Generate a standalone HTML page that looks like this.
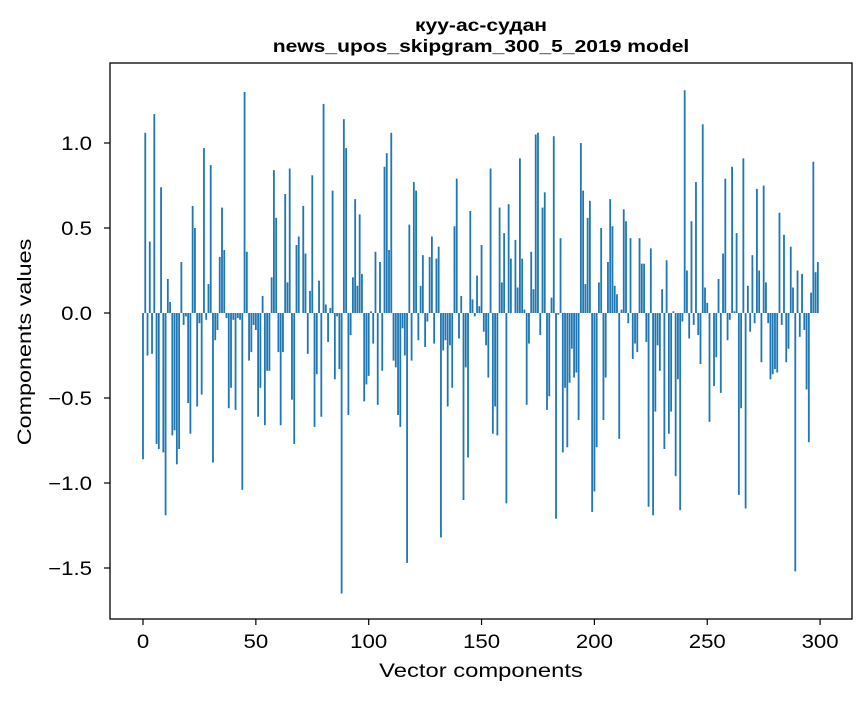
<!DOCTYPE html>
<html><head><meta charset="utf-8"><style>
body{margin:0;background:#fff;}
svg text{font-family:"Liberation Sans","DejaVu Sans",sans-serif;fill:#000;}
</style></head><body>
<svg id="chart" width="867" height="696" xmlns="http://www.w3.org/2000/svg">
<rect width="867" height="696" fill="#fff"/>
<text transform="translate(481,31) scale(1.17,1)" font-size="18" font-weight="bold" text-anchor="middle">куу-ас-судан</text>
<text transform="translate(481,52) scale(1.17,1)" font-size="18" font-weight="bold" text-anchor="middle">news_upos_skipgram_300_5_2019 model</text>
<g id="bars"></g>
<rect x="110" y="63" width="742" height="556" fill="none" stroke="#000" stroke-width="1.3"/>
<g id="xticks"></g>
<g id="yticks"></g>
<text transform="translate(481,677) scale(1.22,1)" font-size="19.5" text-anchor="middle">Vector components</text>
<text transform="translate(31,342) rotate(-90) scale(1.2,1)" font-size="19.5" text-anchor="middle">Components values</text>
</svg>
<script>
const values = [
-0.86,1.06,-0.25,0.42,-0.24,1.17,-0.77,-0.80,0.74,-0.82,
-1.19,0.20,0.065,-0.72,-0.69,-0.89,-0.80,0.30,-0.07,-0.02,
-0.53,-0.71,0.63,0.50,-0.55,-0.06,-0.48,0.97,-0.04,0.17,
0.87,-0.88,-0.16,-0.10,0.33,0.62,0.37,-0.03,-0.56,-0.44,
-0.04,-0.57,-0.03,-0.04,-1.04,1.30,0.36,-0.28,
-0.23,-0.07,-0.10,-0.61,-0.44,0.10,-0.66,-0.34,-0.34,0.21,
0.84,0.56,-0.23,-0.66,-0.23,0.70,0.18,0.85,-0.51,-0.77,
0.40,0.45,0,0.63,0.35,-0.24,0.13,0.81,-0.67,-0.36,
0.19,-0.61,1.23,0.05,-0.17,0.03,0.72,-0.39,-0.02,-0.33,
-1.65,1.14,0.97,-0.60,-0.13,0.21,0.67,0.16,0.58,
0.23,-0.52,-0.42,-0.37,0.01,-0.18,0.36,-0.54,0.30,-0.34,
0.86,0.94,0.37,1.06,-0.28,-0.32,-0.60,-0.67,-0.09,-0.25,
-1.47,0.52,-0.28,0.77,0.72,-0.16,0.16,0.34,-0.20,-0.05,
0.33,0.45,-0.18,0.32,0.39,-1.32,-0.22,-0.16,-0.55,-0.19,
-0.44,0.51,0.79,-0.15,0.10,-1.10,-0.32,-0.85,0.60,0.08,
-0.02,0.22,0.04,0.40,-0.11,-0.19,-0.38,0.85,-0.71,-0.55,
-0.72,0.62,0.18,0.47,-1.12,0.64,0.32,0,0.43,0.15,
0.91,0.32,0.02,-0.54,-0.18,0.36,0.14,1.05,1.06,-0.13,
0.62,0.71,-0.57,-0.49,0.09,1.04,-1.21,-0.01,0.44,-0.82,
-0.44,-0.79,-0.41,-0.21,-0.38,-0.35,-0.63,1.00,0.72,0.17,
0.56,0.66,-1.17,
-1.05,-0.79,0.18,0.50,-0.63,-0.38,0.30,0.67,0.51,0.16,
0.11,-0.74,0.02,0.61,0.54,-0.06,0.44,-0.27,-0.18,-0.23,
0.44,0.29,0.29,-0.17,-1.14,0.38,-1.19,-0.58,-0.19,-0.34,
0.14,-0.80,0.31,-0.71,-0.58,0.01,-0.96,-0.39,-1.16,-0.05,
1.31,0.25,-0.15,0.54,-0.07,0.77,-0.13,-0.30,1.11,0.15,
0.06,-0.64,0,-0.43,-0.26,0.20,-0.47,0.35,0.79,-0.16,
-0.04,0.86,0.01,0.47,-1.07,-0.56,0.91,-1.15,0.16,-0.11,
0.34,-0.06,0.73,0.25,-0.29,0.75,0.18,-0.06,-0.39,-0.36,
-0.33,-0.35,0.59,-0.07,0.46,-0.29,-0.21,0.39,0.15,-1.52,
0.25,-0.14,0.23,-0.10,-0.45,-0.76,0.12,0.89,0.24,0.30
];
const xTicks = [0,50,100,150,200,250,300];
const yTicks = [1.0,0.5,0.0,-0.5,-1.0,-1.5];
const yTickLabels = ["1.0","0.5","0.0","\u22120.5","\u22121.0","\u22121.5"];

const NS = "http://www.w3.org/2000/svg";
function xs(i){ return 143 + 2.257*i; }
function ys(v){ return 313 - 170*v; }
const bars = document.getElementById('bars');
values.forEach((v,i)=>{
  const r = document.createElementNS(NS,'rect');
  const bw = 2.257*0.8;
  r.setAttribute('x', xs(i)-bw/2);
  r.setAttribute('width', bw);
  r.setAttribute('y', Math.min(ys(v), ys(0)));
  r.setAttribute('height', Math.abs(ys(v)-ys(0)));
  r.setAttribute('fill', '#1f77b4');
  
  
  bars.appendChild(r);
});
const xg = document.getElementById('xticks');
xTicks.forEach(t=>{
  const l = document.createElementNS(NS,'line');
  l.setAttribute('x1', xs(t)); l.setAttribute('x2', xs(t));
  l.setAttribute('y1', 619); l.setAttribute('y2', 625);
  l.setAttribute('stroke', '#000');
  l.setAttribute('stroke-width', '1.2');
  
  
  xg.appendChild(l);
  const tx = document.createElementNS(NS,'text');
  tx.setAttribute('transform', 'translate(' + xs(t) + ',648) scale(1.14,1)');
  tx.setAttribute('font-size', '19.5'); tx.setAttribute('text-anchor', 'middle');
  tx.textContent = String(t);
  
  
  xg.appendChild(tx);
});
const yg = document.getElementById('yticks');
yTicks.forEach((t,k)=>{
  const l = document.createElementNS(NS,'line');
  l.setAttribute('x1', 104); l.setAttribute('x2', 110);
  l.setAttribute('y1', ys(t)); l.setAttribute('y2', ys(t));
  l.setAttribute('stroke', '#000');
  l.setAttribute('stroke-width', '1.2');
  
  
  yg.appendChild(l);
  const tx = document.createElementNS(NS,'text');
  tx.setAttribute('transform', 'translate(92,' + (ys(t)+7) + ') scale(1.17,1)');
  tx.setAttribute('font-size', '19'); tx.setAttribute('text-anchor', 'end');
  tx.textContent = yTickLabels[k];
  
  
  yg.appendChild(tx);
});
</script>
</body></html>
